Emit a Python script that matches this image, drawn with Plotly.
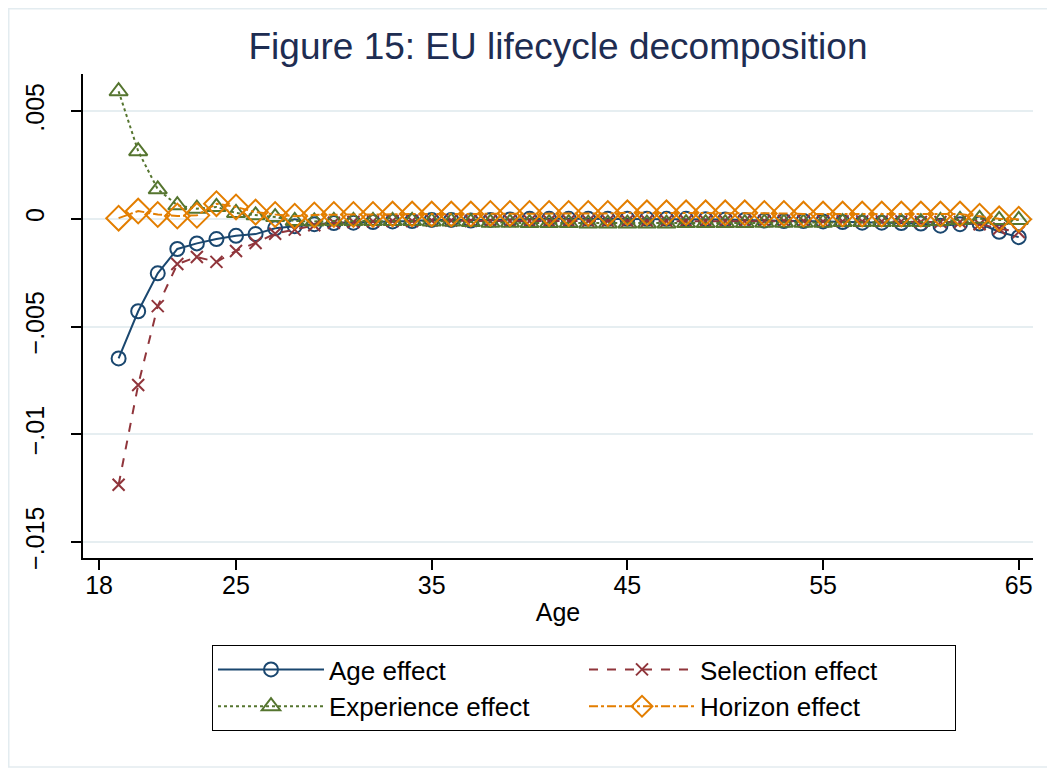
import plotly.graph_objects as go

ages = list(range(19, 66))

age_effect = [-6.48, -4.29, -2.53, -1.40, -1.14, -0.94, -0.79, -0.71, -0.44, -0.34,
              -0.25, -0.20, -0.18, -0.15, -0.12, -0.10, -0.05, -0.05, -0.08, -0.05,
              -0.03, 0.00, 0.00, 0.00, 0.00, 0.00, 0.00, 0.00, 0.00, 0.00,
              -0.02, -0.03, -0.05, -0.08, -0.10, -0.10, -0.12, -0.15, -0.18, -0.18,
              -0.20, -0.22, -0.32, -0.25, -0.22, -0.60, -0.85]
selection_effect = [-12.34, -7.71, -4.05, -2.10, -1.77, -2.00, -1.49, -1.12, -0.69, -0.50,
                    -0.30, -0.18, -0.15, -0.12, -0.10, -0.10, -0.08, -0.08, -0.10, -0.10,
                    -0.10, -0.10, -0.10, -0.10, -0.10, -0.10, -0.10, -0.10, -0.10, -0.10,
                    -0.10, -0.10, -0.10, -0.10, -0.10, -0.10, -0.12, -0.12, -0.12, -0.12,
                    -0.12, -0.15, -0.15, -0.15, -0.25, -0.45, -0.61]
experience_effect = [5.92, 3.14, 1.37, 0.63, 0.47, 0.55, 0.27, 0.16, 0.08, -0.10,
                     -0.12, -0.10, -0.10, -0.10, -0.10, -0.10, -0.12, -0.12, -0.15, -0.18,
                     -0.18, -0.20, -0.20, -0.20, -0.22, -0.22, -0.22, -0.22, -0.22, -0.20,
                     -0.20, -0.20, -0.20, -0.18, -0.18, -0.18, -0.18, -0.15, -0.15, -0.15,
                     -0.15, -0.15, -0.10, -0.05, 0.00, -0.05, -0.05]
horizon_effect = [0.03, 0.36, 0.20, 0.13, 0.16, 0.70, 0.55, 0.31, 0.20, 0.12,
                  0.18, 0.20, 0.20, 0.20, 0.22, 0.22, 0.22, 0.22, 0.22, 0.25,
                  0.25, 0.25, 0.25, 0.25, 0.25, 0.25, 0.28, 0.28, 0.28, 0.28,
                  0.28, 0.28, 0.28, 0.25, 0.25, 0.22, 0.22, 0.22, 0.22, 0.22,
                  0.22, 0.22, 0.22, 0.22, 0.12, 0.00, -0.02]

scale = 0.001
x_ticks = [18, 25, 35, 45, 55, 65]
y_ticks = [-0.015, -0.01, -0.005, 0, 0.005]
y_tick_labels = ["\u2212.015", "\u2212.01", "\u2212.005", "0", ".005"]

FONT = "Liberation Sans, Arial, sans-serif"

fig = go.Figure()

series = [
    ("Age effect", age_effect, "#1a476f", "solid", "circle-open", 14),
    ("Selection effect", selection_effect, "#90353b", "dash", "x-thin-open", 12),
    ("Experience effect", experience_effect, "#55752f", "dot", "triangle-up-open", 16),
    ("Horizon effect", horizon_effect, "#e37e00", "dashdot", "diamond-open", 19),
]

for name, vals, color, dash, sym, size in series:
    fig.add_trace(go.Scatter(
        x=ages, y=[v * scale for v in vals], name=name, mode="lines+markers",
        line=dict(color=color, width=2, dash=dash),
        marker=dict(symbol=sym, size=size, color=color, line=dict(color=color, width=2)),
    ))

# page has an 8px body margin; figure coordinates below are page coords minus 8
OFF = 8
W, H = 1055 - OFF, 768 - OFF
L, R, T, B = 83 - OFF, 1033 - OFF, 74 - OFF, 558 - OFF
pw, ph = R - L, B - T

fig.update_layout(
    width=W, height=H,
    margin=dict(l=L, r=W - R, t=T, b=H - B),
    paper_bgcolor="white", plot_bgcolor="white",
    font=dict(family=FONT, size=25, color="black"),
    title=dict(text="Figure 15: EU lifecycle decomposition", x=(L + R) / 2 / W, xanchor="center",
               y=1 - (46 - OFF) / H, yanchor="middle", font=dict(size=37, color="#1e2d52", family=FONT)),
    xaxis=dict(range=[17.18, 65.73], tickvals=x_ticks, ticks="outside", ticklen=10, tickwidth=1.5,
               tickcolor="black", showline=True, linecolor="black", linewidth=1.5,
               showgrid=False, zeroline=False, automargin=False, ticklabelstandoff=-6,
               title=dict(text="Age", standoff=6, font=dict(size=25)),
               tickfont=dict(size=25)),
    yaxis=dict(range=[-0.01574, 0.00672], tickvals=y_ticks, ticktext=y_tick_labels, ticks="outside",
               ticklen=10, tickwidth=1.5, tickcolor="black", showline=True, linecolor="black",
               linewidth=1.5, showgrid=True, gridcolor="#e6eef1", gridwidth=1.5, zeroline=False,
               automargin=False, tickangle=-90, tickfont=dict(size=25), ticklabelstandoff=17),
    legend=dict(orientation="h", x=(212 - 83) / pw,
                xanchor="left", xref="paper", y=-(645 - 558) / ph, yanchor="top",
                bordercolor="black", borderwidth=1, bgcolor="white",
                font=dict(size=26, family=FONT), itemwidth=106, entrywidth=250,
                traceorder="normal"),
    showlegend=True,
)

# light outer frame of the graph region
fig.add_shape(type="rect", xref="paper", yref="paper",
              x0=(0.75 - L) / pw, x1=(W - 1 - L) / pw, y0=(B - (H - 1)) / ph, y1=(B - 0.75) / ph,
              line=dict(color="#e3ecf0", width=1.5), fillcolor="rgba(0,0,0,0)", layer="below")

fig.write_html("out.html")
